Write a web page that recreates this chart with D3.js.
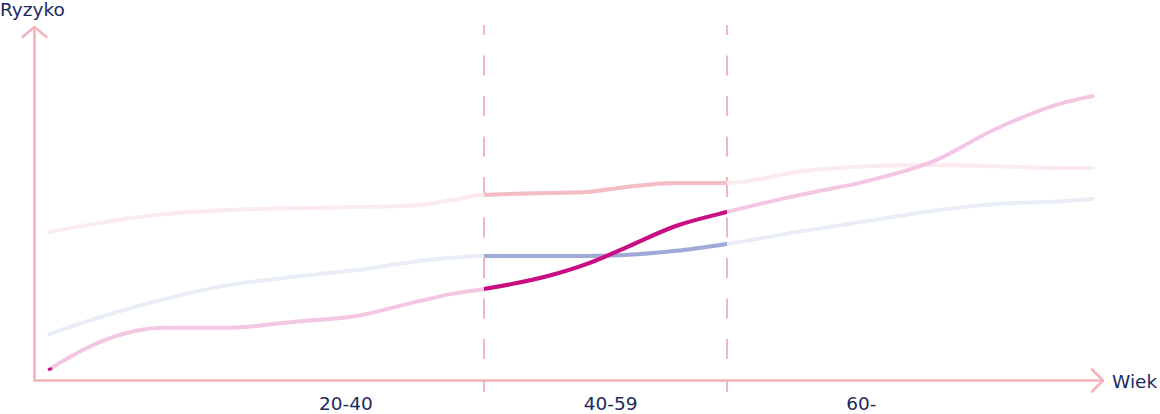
<!DOCTYPE html>
<html><head><meta charset="utf-8">
<script src="https://cdn.jsdelivr.net/npm/d3@7"></script>
<style>
body{margin:0;background:#fff}
svg{display:block}
text{font-family:"DejaVu Sans",Lato,sans-serif;fill:#1b2b5e}
</style>
</head><body>
<svg id="chart" width="1160" height="414"></svg>
<script>
// ---- data ----
const ages = [6, 10, 15, 20, 25, 30, 35, 37.5, 40, 45, 48, 51, 55, 59, 65, 70, 75, 80, 85, 87.6];
const riskTop = [42.3, 44.9, 47.4, 48.6, 49.1, 49.4, 50.0, 51.4, 52.9, 53.4, 53.7, 55.1, 56.3, 56.3, 59.7, 61.1, 61.4, 61.1, 60.6, 60.6];
const riskBlue = [13.1, 18.0, 23.1, 27.1, 29.4, 31.4, 34.0, 34.9, 35.4, 35.4, 35.4, 35.7, 36.9, 38.9, 42.6, 45.4, 48.3, 50.3, 51.0, 51.7];
const riskMagenta = [3.1, 10.9, 14.9, 14.9, 16.6, 18.3, 22.6, 24.6, 26.0, 29.7, 33.1, 37.7, 44.0, 48.0, 53.1, 56.9, 62.3, 71.7, 78.9, 81.1];
const bandBounds = [40, 59];
const bandLabels = ["20-40", "40-59", "60-"];
const bandLabelAges = [29.2, 49.9, 69.5];
const axisTitleX = "Wiek";
const axisTitleY = "Ryzyko";

// ---- layout ----
const svg = d3.select("#chart");
const x = d3.scaleLinear().domain(bandBounds).range([484, 727]);
const y = d3.scaleLinear().domain([0, 100]).range([380, 30]);
const axisColor = "#f4b3bb";
const axisLeft = 34.5, axisBottom = 380.5, axisTop = 27, axisRight = 1103;

const series = [
  {vals: riskTop, faded: "#fcebee", strong: "#f4bcc4"},
  {vals: riskBlue, faded: "#e9edf6", strong: "#9eaad5"},
  {vals: riskMagenta, faded: "#f3c6e4", strong: "#c80d85"}
];

// dashed band separators
svg.selectAll("line.sep").data(bandBounds).join("line")
  .attr("class", "sep")
  .attr("x1", d => x(d)).attr("x2", d => x(d))
  .attr("y1", 25).attr("y2", 392)
  .attr("stroke", "#ee9fac").attr("stroke-width", 1.5)
  .attr("stroke-dasharray", "20,20.5").attr("stroke-dashoffset", 10);

// clip for the emphasised band
svg.append("clipPath").attr("id", "band")
  .append("rect")
  .attr("x", x(bandBounds[0])).attr("y", 0)
  .attr("width", x(bandBounds[1]) - x(bandBounds[0])).attr("height", 414);

const line = d3.line()
  .x(d => x(d[0])).y(d => y(d[1]))
  .curve(d3.curveMonotoneX);

series.forEach(s => {
  const pts = ages.map((a, i) => [a, s.vals[i]]);
  svg.append("path").attr("d", line(pts))
    .attr("fill", "none").attr("stroke", s.faded).attr("stroke-width", 4)
    .attr("stroke-linecap", "round");
  svg.append("path").attr("d", line(pts))
    .attr("fill", "none").attr("stroke", s.strong).attr("stroke-width", 4)
    .attr("clip-path", "url(#band)");
});

// small dark start stub on the magenta line
{
  const a0 = ages[0];
  svg.append("line")
    .attr("x1", x(a0) - 1).attr("x2", x(a0) + 3)
    .attr("y1", y(riskMagenta[0]) + 0.5).attr("y2", y(riskMagenta[0]) - 0.5)
    .attr("stroke", "#c80d85").attr("stroke-width", 3);
}

// axes with arrows
const ax = svg.append("g").attr("fill", "none").attr("stroke", axisColor)
  .attr("stroke-width", 2.5).attr("stroke-linecap", "round").attr("stroke-linejoin", "round");
ax.append("path").attr("d", `M${axisLeft},${axisTop}V${axisBottom}H${axisRight}`);
ax.append("path").attr("d", `M${axisLeft - 12},${axisTop + 10}L${axisLeft},${axisTop}L${axisLeft + 12},${axisTop + 10}`);
ax.append("path").attr("d", `M${axisRight - 11},${axisBottom - 11}L${axisRight},${axisBottom}L${axisRight - 11},${axisBottom + 11}`);

// band labels
svg.selectAll("text.band").data(bandLabels).join("text")
  .attr("class", "band")
  .attr("x", (d, i) => x(bandLabelAges[i]))
  .attr("y", 410)
  .attr("text-anchor", "middle")
  .attr("font-size", 18.5)
  .text(d => d);

svg.append("text").attr("x", 0).attr("y", 16).attr("font-size", 18.5).text(axisTitleY);
svg.append("text").attr("x", 1112).attr("y", 388).attr("font-size", 18.5).text(axisTitleX);
</script>
</body></html>
